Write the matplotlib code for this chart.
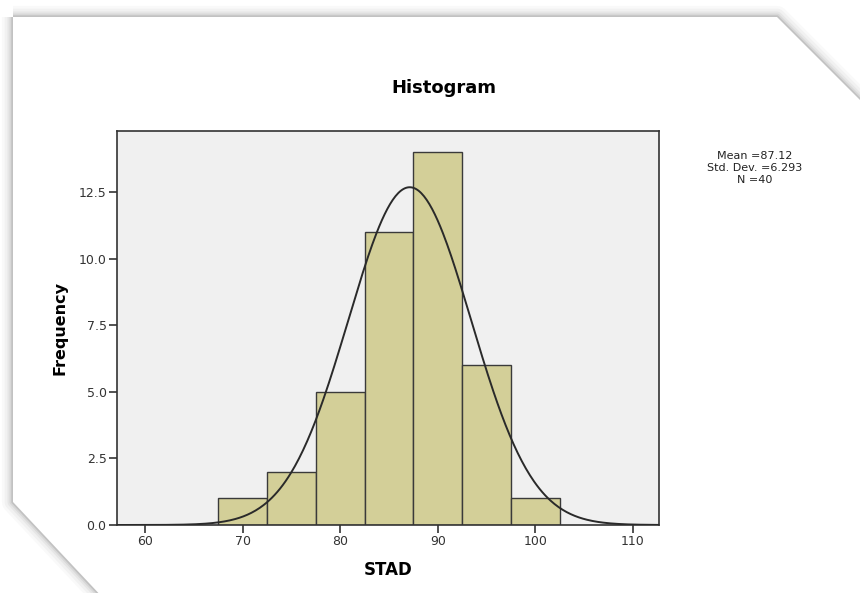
import numpy as np
import matplotlib.pyplot as plt
from matplotlib.patches import Polygon

plt.rcParams['font.family'] = ['DejaVu Sans']

# histogram data (SPSS output)
bin_edges = [67.5, 72.5, 77.5, 82.5, 87.5, 92.5, 97.5, 102.5]
counts = [1, 2, 5, 11, 14, 6, 1]
mean_val = 87.12
std_val = 6.293
n_val = 40
x_ticks = [60, 70, 80, 90, 100, 110]
y_ticks = [0.0, 2.5, 5.0, 7.5, 10.0, 12.5]

W, H = 860, 593
fig = plt.figure(figsize=(W / 100, H / 100), dpi=100)
fig.patch.set_facecolor('white')

# page with cut corners and a soft shadow
page_px = [(13, 17), (777, 17), (860, 100), (860, 600), (105, 600), (13, 502)]
page = [(x / W, 1 - y / H) for x, y in page_px]
for lw, a in [(16, 0.035), (12, 0.05), (8, 0.07), (5, 0.1), (2.5, 0.18)]:
    fig.patches.append(Polygon(page, closed=True, transform=fig.transFigure,
                               facecolor='none', edgecolor='#606060', lw=lw,
                               alpha=a, zorder=-10, joinstyle='round'))
fig.patches.append(Polygon(page, closed=True, transform=fig.transFigure,
                           facecolor='white', edgecolor='none', zorder=-9))

ax = fig.add_axes([117 / W, 1 - 525 / H, (659 - 117) / W, (525 - 131) / H])
ax.set_facecolor('#f0f0f0')

lefts = np.array(bin_edges[:-1])
widths = np.diff(bin_edges)
ax.bar(lefts, counts, width=widths, align='edge', color='#d3cf98',
       edgecolor='#3a3a3a', linewidth=1.0, zorder=2)

ax.set_xlim(57.13, 112.66)
ax.set_ylim(0, 14.79)

# fitted normal curve
xs = np.linspace(57.13, 112.66, 400)
bw = widths[0]
ys = n_val * bw / (std_val * np.sqrt(2 * np.pi)) * np.exp(-0.5 * ((xs - mean_val) / std_val) ** 2)
ax.plot(xs, ys, color='#2a2a2a', lw=1.4, zorder=3)

ax.set_xticks(x_ticks)
ax.set_yticks(y_ticks)
ax.set_yticklabels([f'{v:.1f}' for v in y_ticks])
ax.tick_params(axis='both', direction='out', length=6, width=1.2,
               color='#333333', labelsize=9, labelcolor='#333333', pad=1.5)
for s in ax.spines.values():
    s.set_color('#333333')
    s.set_linewidth(1.2)

ax.set_xlabel('STAD', fontsize=12, fontweight='bold', labelpad=9)
ax.set_ylabel('Frequency', fontsize=11.5, fontweight='bold', labelpad=8)
fig.text(444 / W, 1 - 88 / H, 'Histogram', ha='center', va='center',
         fontsize=13, fontweight='bold')

# summary box to the right, one line each so spacing stays even
stats = [f'Mean ={mean_val:.2f}', f'Std. Dev. ={std_val:.3f}', f'N ={n_val}']
for i, line in enumerate(stats):
    fig.text(755 / W, 1 - (159 + 12 * i) / H, line, ha='center',
             va='baseline', fontsize=8, color='#222222')

fig.savefig('out.png', dpi=100)
